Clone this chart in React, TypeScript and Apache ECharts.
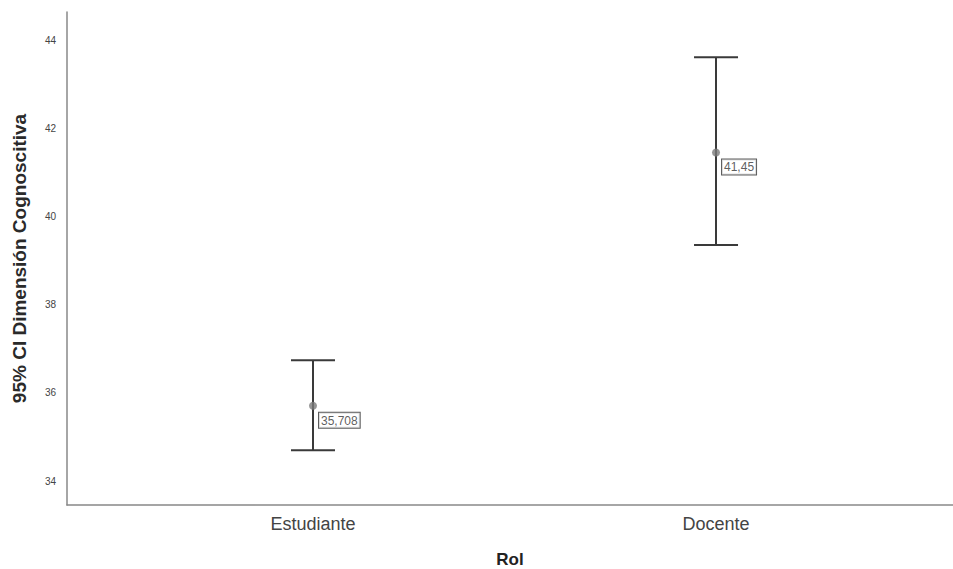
import React, { useEffect, useRef } from "react";
import * as echarts from "echarts";

const categories = ["Estudiante", "Docente"];
const means = [35.708, 41.45];
const lowerCI = [34.7, 39.35];
const upperCI = [36.74, 43.61];
const meanLabels = ["35,708", "41,45"];
const yTicks = [34, 36, 38, 40, 42, 44];

export default function App() {
  const ref = useRef<HTMLDivElement>(null);
  useEffect(() => {
    if (!ref.current) return;
    const chart = echarts.init(ref.current, null, { renderer: "svg" });
    const errData = categories.map((_, i) => [i, lowerCI[i], upperCI[i]]);
    const meanData = categories.map((_, i) => [i, means[i]]);
    chart.setOption({
      animation: false,
      backgroundColor: "#ffffff",
      grid: { left: 67, right: 0, top: 12, bottom: 64, outerBoundsMode: "none", containLabel: false },
      xAxis: {
        type: "value",
        min: -0.6104,
        max: 1.588,
        name: "Rol",
        nameLocation: "middle",
        nameGap: 46,
        nameTextStyle: { fontFamily: "Liberation Sans", fontWeight: "bold", fontSize: 17, color: "#222" },
        axisLine: { show: true, onZero: false, lineStyle: { color: "#888", width: 1.5 } },
        axisTick: { show: false },
        splitLine: { show: false },
        axisLabel: {
          customValues: [0, 1],
          formatter: (v: number) => categories[Math.round(v)] ?? "",
          fontFamily: "Liberation Sans",
          fontSize: 18,
          color: "#444",
          margin: 10,
        },
      },
      yAxis: {
        type: "value",
        min: 33.456,
        max: 44.635,
        name: "95% CI Dimensión Cognoscitiva",
        nameLocation: "middle",
        nameGap: 38,
        nameTextStyle: { fontFamily: "Liberation Sans", fontWeight: "bold", fontSize: 19, color: "#2a2a2a" },
        axisLine: { show: true, onZero: false, lineStyle: { color: "#888", width: 1.5 } },
        axisTick: { show: false },
        splitLine: { show: false },
        axisLabel: {
          customValues: yTicks,
          fontFamily: "Liberation Sans",
          fontSize: 10,
          color: "#444",
          margin: 11,
        },
      },
      series: [
        {
          type: "custom",
          data: errData,
          encode: { x: 0, y: [1, 2] },
          renderItem: (params: any, api: any) => {
            const x = api.value(0);
            const lo = api.coord([x, api.value(1)]);
            const hi = api.coord([x, api.value(2)]);
            const hw = 22;
            const style = { stroke: "#3a3a3a", lineWidth: 2 };
            return {
              type: "group",
              children: [
                { type: "line", shape: { x1: lo[0], y1: lo[1], x2: hi[0], y2: hi[1] }, style },
                { type: "line", shape: { x1: lo[0] - hw, y1: lo[1], x2: lo[0] + hw, y2: lo[1] }, style },
                { type: "line", shape: { x1: hi[0] - hw, y1: hi[1], x2: hi[0] + hw, y2: hi[1] }, style },
              ],
            };
          },
          z: 2,
        },
        {
          type: "scatter",
          data: meanData,
          symbol: "circle",
          symbolSize: 8,
          itemStyle: { color: "#7a7a7a" },
          z: 3,
          label: {
            show: true,
            position: [10, 11],
            formatter: (p: any) => meanLabels[p.dataIndex],
            fontFamily: "Liberation Sans",
            fontSize: 12,
            color: "#333",
            backgroundColor: "#fff",
            borderColor: "#333",
            borderWidth: 1,
            padding: [2, 2, 1, 2],
          },
        },
      ],
    });
    return () => chart.dispose();
  }, []);
  return <div ref={ref} style={{ width: 953, height: 569, position: "absolute", left: 0, top: 0 }} />;
}
